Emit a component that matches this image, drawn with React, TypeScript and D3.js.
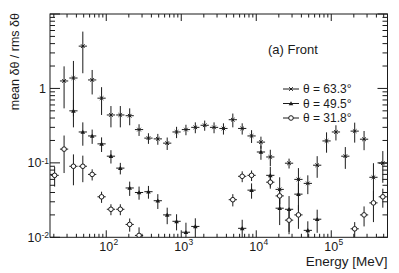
import React from "react";
import { scaleLog } from "d3";

// bin centres in MeV (8 bins per decade)
const energies = [
  20.5, 27.4, 36.5, 48.7, 64.9, 86.6, 115.5, 154.0, 205.4, 273.8, 365.2, 487.0,
  649.4, 866.0, 1155, 1540, 2054, 2738, 3652, 4870, 6494, 8660, 11548, 15399,
  20535, 27384, 36517, 48697, 64938, 86596, 115478, 153993, 205353, 273842,
  365174, 486968,
];

const theta63 = [
  null, 1.26, 1.38, 3.7, 1.3, 0.74, 0.44, 0.44, 0.43, 0.28, 0.215, 0.21, 0.184,
  0.26, 0.28, 0.3, 0.32, 0.3, 0.29, 0.38, 0.29, 0.23, 0.19, 0.12, 0.044, 0.099,
  0.06, 0.053, 0.093, 0.197, 0.26, 0.123, 0.267, 0.208, 0.064, 0.099,
];
const theta63Err = [
  0, 0.72, 0.96, 2.1, 0.47, 0.3, 0.14, 0.14, 0.11, 0.05, 0.035, 0.035, 0.035,
  0.045, 0.045, 0.05, 0.05, 0.05, 0.05, 0.08, 0.05, 0.045, 0.035, 0.03, 0.02,
  0.015, 0.025, 0.015, 0.03, 0.06, 0.06, 0.04, 0.08, 0.06, 0.035, 0.045,
];

const theta49 = [
  null, null, 0.5, 0.26, 0.23, 0.18, 0.123, 0.085, 0.046, 0.04, 0.041, 0.031,
  0.02, 0.0164, 0.0117, 0.014, null, null, null, null, 0.0132, 0.043, 0.14,
  0.068, 0.0246, 0.0238, 0.038, 0.0124, 0.0175, null, null, null, null, null,
  null, null,
];
const theta49Err = [
  0, 0, 0.2, 0.09, 0.05, 0.04, 0.025, 0.015, 0.01, 0.008, 0.008, 0.007, 0.005,
  0.004, 0.004, 0.004, 0, 0, 0, 0, 0.004, 0.01, 0.03, 0.02, 0.01, 0.012, 0.015,
  0.004, 0.006, 0, 0, 0, 0, 0, 0, 0,
];

const theta31 = [
  0.068, 0.153, 0.09, 0.09, 0.07, 0.035, 0.0238, 0.0238, 0.0149, 0.0106, null,
  null, null, null, null, null, null, null, null, 0.032, 0.066, 0.068, null,
  0.055, 0.036, 0.017, 0.02, null, null, null, null, null, 0.013, 0.02, 0.029,
  0.035,
];
const theta31Err = [
  0.02, 0.08, 0.04, 0.035, 0.012, 0.006, 0.004, 0.004, 0.003, 0.003, 0, 0, 0, 0,
  0, 0, 0, 0, 0, 0.006, 0.011, 0.011, 0, 0.01, 0.008, 0.006, 0.007, 0, 0, 0, 0,
  0, 0.003, 0.006, 0.013, 0.01,
];

const legendLabels = ["θ = 63.3°", "θ = 49.5°", "θ = 31.8°"];
const yTickLabels = [
  { v: 1, base: "1", exp: "" },
  { v: 0.1, base: "10", exp: "-1" },
  { v: 0.01, base: "10", exp: "-2" },
];
const xTickLabels = [
  { v: 100, exp: "2" },
  { v: 1000, exp: "3" },
  { v: 10000, exp: "4" },
  { v: 100000, exp: "5" },
];

const W = 399;
const H = 273;
const left = 50;
const right = 387.5;
const top = 14;
const bottom = 237.3;
const font = "'Liberation Sans', Arial, Helvetica, sans-serif";
const ink = "#1a1a1a";

const x = scaleLog().domain([Math.pow(10, 1.25), Math.pow(10, 5.75)]).range([left, right]);
const y = scaleLog().domain([0.01, 10]).range([bottom, top]);

const Marker = ({ kind, cx, cy }) => {
  if (kind === "star") {
    const s = 1.8;
    return (
      <g stroke={ink} strokeWidth={1}>
        <line x1={cx - s} y1={cy - s} x2={cx + s} y2={cy + s} />
        <line x1={cx - s} y1={cy + s} x2={cx + s} y2={cy - s} />
      </g>
    );
  }
  if (kind === "tri") {
    const s = 2.3;
    return (
      <path
        d={`M${cx},${cy - s}L${cx + s},${cy + s * 0.8}L${cx - s},${cy + s * 0.8}Z`}
        fill={ink}
      />
    );
  }
  return <circle cx={cx} cy={cy} r={2.3} fill="#fff" stroke={ink} strokeWidth={1} />;
};

const series = [
  { values: theta63, errs: theta63Err, kind: "star" },
  { values: theta49, errs: theta49Err, kind: "tri" },
  { values: theta31, errs: theta31Err, kind: "circle" },
];

const halfBin = Math.pow(10, 0.055);

const minorTicks = (lo, hi) => {
  const out = [];
  for (let d = lo; d < hi; d++) {
    for (let m = 2; m <= 9; m++) out.push(m * Math.pow(10, d));
  }
  return out;
};

export default function App() {
  const xMajor = [100, 1000, 10000, 100000];
  const xMinor = minorTicks(1, 6).filter((v) => x(v) > left && x(v) < right);
  const yMajor = [0.01, 0.1, 1, 10];
  const yMinor = minorTicks(-2, 1);

  return (
    <svg
      width={W}
      height={H}
      style={{ position: "absolute", left: 0, top: 0, background: "#fff" }}
      fontFamily={font}
    >
      <defs>
        <clipPath id="plot">
          <rect x={left} y={top} width={right - left} height={bottom - top} />
        </clipPath>
      </defs>
      <rect width={W} height={H} fill="#fff" />

      {/* ticks */}
      <g stroke={ink} strokeWidth={1}>
        {xMajor.map((v) => (
          <g key={"xM" + v}>
            <line x1={x(v)} x2={x(v)} y1={bottom} y2={bottom - 7} />
            <line x1={x(v)} x2={x(v)} y1={top} y2={top + 7} />
          </g>
        ))}
        {xMinor.map((v) => (
          <g key={"xm" + v}>
            <line x1={x(v)} x2={x(v)} y1={bottom} y2={bottom - 3.5} />
            <line x1={x(v)} x2={x(v)} y1={top} y2={top + 3.5} />
          </g>
        ))}
        {yMajor.map((v) => (
          <g key={"yM" + v}>
            <line x1={left} x2={left + 10} y1={y(v)} y2={y(v)} />
            <line x1={right} x2={right - 10} y1={y(v)} y2={y(v)} />
          </g>
        ))}
        {yMinor.map((v) => (
          <g key={"ym" + v}>
            <line x1={left} x2={left + 5} y1={y(v)} y2={y(v)} />
            <line x1={right} x2={right - 5} y1={y(v)} y2={y(v)} />
          </g>
        ))}
      </g>

      {/* data */}
      <g clipPath="url(#plot)">
        {series.map((s, si) =>
          s.values.map((v, i) => {
            if (v == null) return null;
            const e = energies[i];
            const cx = x(e);
            const cy = y(v);
            const lo = Math.max(v - s.errs[i], 0.001);
            return (
              <g key={si + "-" + i}>
                <line x1={cx} x2={cx} y1={y(v + s.errs[i])} y2={y(lo)} stroke={ink} strokeWidth={1} />
                <line x1={x(e / halfBin)} x2={x(e * halfBin)} y1={cy} y2={cy} stroke={ink} strokeWidth={1} />
                <Marker kind={s.kind} cx={cx} cy={cy} />
              </g>
            );
          })
        )}
      </g>

      <rect
        x={left}
        y={top}
        width={right - left}
        height={bottom - top}
        fill="none"
        stroke={ink}
        strokeWidth={1}
      />

      {/* y tick labels */}
      {yTickLabels.map((t) =>
        t.exp === "" ? (
          <text key={t.v} x={46} y={y(t.v) + 4.5} fontSize={12.5} textAnchor="end" fill={ink}>
            {t.base}
          </text>
        ) : (
          <g key={t.v}>
            <text x={41.5} y={y(t.v) + 4.5} fontSize={12.5} textAnchor="end" fill={ink}>
              {t.base}
            </text>
            <text x={41.5} y={y(t.v) + 1} fontSize={8.5} fill={ink}>
              {t.exp}
            </text>
          </g>
        )
      )}

      {/* x tick labels */}
      {xTickLabels.map((t) => (
        <g key={t.v}>
          <text x={x(t.v)} y={250.5} fontSize={12.5} textAnchor="middle" fill={ink}>
            10
          </text>
          <text x={x(t.v) + 7.3} y={245} fontSize={8.5} fill={ink}>
            {t.exp}
          </text>
        </g>
      ))}

      {/* axis titles */}
      <text x={right} y={266} fontSize={13.5} textAnchor="end" fill={ink}>
        Energy [MeV]
      </text>
      <text
        transform={`translate(18.5, ${top - 1}) rotate(-90)`}
        fontSize={12.5}
        textAnchor="end"
        fill={ink}
      >
        mean δθ / rms δθ
      </text>

      <text x={268} y={53.5} fontSize={13} fill={ink}>
        (a) Front
      </text>

      {/* legend */}
      {legendLabels.map((label, i) => {
        const ly = 89 + i * 14.5;
        return (
          <g key={label}>
            <line x1={283} x2={299} y1={ly} y2={ly} stroke={ink} strokeWidth={1} />
            <Marker kind={series[i].kind} cx={291} cy={ly} />
            <text x={303} y={ly + 4.3} fontSize={12} fill={ink}>
              {label}
            </text>
          </g>
        );
      })}
    </svg>
  );
}
